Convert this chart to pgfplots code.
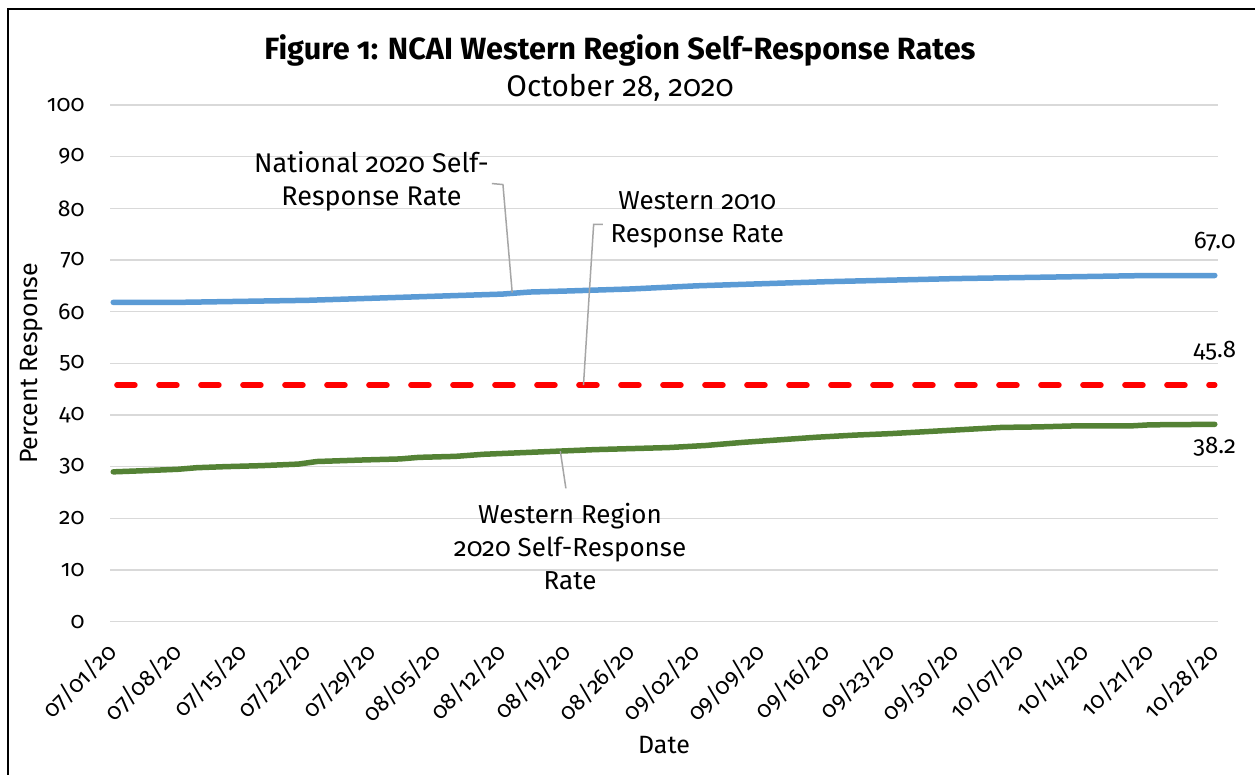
\documentclass[border=0pt]{standalone}
\usepackage{pgfplots}
\pgfplotsset{compat=1.18}
\usepackage{fontspec}
\setmainfont{Fira Sans}[Numbers=OldStyle]
\definecolor{nblue}{HTML}{5B9BD5}
\definecolor{wgreen}{HTML}{548235}
\definecolor{gridgray}{HTML}{D9D9D9}
\definecolor{leadgray}{HTML}{A6A6A6}

\pgfplotstableread{
day val
0 61.8
7 61.8
14 62.0
21 62.2
28 62.6
35 63.0
42 63.4
45 63.8
49 64.0
56 64.4
63 65.0
70 65.4
77 65.8
84 66.1
91 66.4
98 66.6
105 66.8
112 67.0
119 67.0
}\national

\pgfplotstableread{
day val
0 29.0
3 29.2
7 29.5
9 29.8
12 30.0
16 30.2
20 30.5
22 31.0
27 31.3
31 31.5
33 31.8
37 32.0
40 32.4
44 32.7
48 33.0
52 33.3
56 33.5
60 33.7
64 34.1
68 34.7
72 35.2
76 35.7
80 36.1
84 36.4
88 36.8
92 37.2
96 37.6
100 37.7
104 37.9
110 37.9
112 38.1
119 38.2
}\western

\begin{document}
\begin{tikzpicture}[x=1pt,y=1pt]
\useasboundingbox (0,0) rectangle (1255,775);
\fill[white] (0,0) rectangle (1255,775);
\draw[line width=2pt] (8,0) -- (8,766) -- (1255,766);
\begin{axis}[
 at={(110pt,153.3pt)}, anchor=south west,
 scale only axis, width=1108pt, height=516.7pt,
 xmin=-0.35, xmax=119.35, ymin=0, ymax=100,
 xtick={0,7,...,119},
 xticklabels={07/01/20,07/08/20,07/15/20,07/22/20,07/29/20,08/05/20,08/12/20,08/19/20,08/26/20,09/02/20,09/09/20,09/16/20,09/23/20,09/30/20,10/07/20,10/14/20,10/21/20,10/28/20},
 ytick={0,10,...,100},
 ymajorgrids, grid style={gridgray, line width=1.5pt},
 axis line style={draw=none},
 major tick length=0pt,
 tick label style={font=\fontsize{23}{27}\selectfont},
 /pgf/number format/assume math mode=true,
 yticklabel style={anchor=east, xshift=-22pt},
 xticklabel style={yshift=-24pt, xshift=2pt, rotate=45, anchor=east},
 ylabel={Percent Response},
 every axis y label/.style={at={(rel axis cs:0,0.5)}, rotate=90, anchor=center, yshift=78pt, font=\fontsize{25}{30}\selectfont},
 xlabel={Date},
 every axis x label/.style={at={(rel axis cs:0.5,0)}, anchor=center, yshift=-123pt, font=\fontsize{25}{30}\selectfont},
 clip=false,
]
\addplot[nblue, line width=5.5pt, line cap=round, line join=round] table[x=day,y=val] {\national};
\addplot[red, line width=5.5pt, line cap=round, dash pattern=on 18pt off 24pt] coordinates {(0.4,45.8) (119,45.8)};
\addplot[wgreen, line width=5.5pt, line cap=round, line join=round] table[x=day,y=val] {\western};

\node[font=\bfseries\fontsize{30.7}{36}\selectfont] at (rel axis cs:0.5,1) [yshift=55pt, xshift=-44pt] {Figure 1: NCAI Western Region Self-Response Rates};
\node[font=\fontsize{29.8}{35}\selectfont] at (rel axis cs:0.5,1) [yshift=17pt, xshift=-44pt] {October 28, 2020};

% data labels
\node[font=\fontsize{24}{28}\selectfont] at (axis cs:119,73.6) {67.0};
\node[font=\fontsize{24}{28}\selectfont] at (axis cs:119,52.4) {45.8};
\node[font=\fontsize{24}{28}\selectfont] at (axis cs:119,33.9) {38.2};

% annotations
\node[font=\fontsize{27}{33}\selectfont, align=center] at (axis cs:27.9,85.2) {National 2020 Self-\\Response Rate};
\draw[leadgray, line width=1.5pt] (axis cs:40.9,84.8) -- (axis cs:42.1,84.6) -- (axis cs:43.1,63.7);

\node[font=\fontsize{26}{33}\selectfont, align=center] at (axis cs:63.1,77.7) {Western 2010\\Response Rate};
\draw[leadgray, line width=1.5pt] (axis cs:52.9,76.9) -- (axis cs:51.9,76.9) -- (axis cs:50.8,45.8);

\node[font=\fontsize{26}{33}\selectfont, align=center] at (axis cs:49.35,14.6) {Western Region\\2020 Self-Response\\Rate};
\draw[leadgray, line width=1.5pt] (axis cs:48.3,33.0) -- (axis cs:48.9,25.8);
\end{axis}
\end{tikzpicture}
\end{document}
